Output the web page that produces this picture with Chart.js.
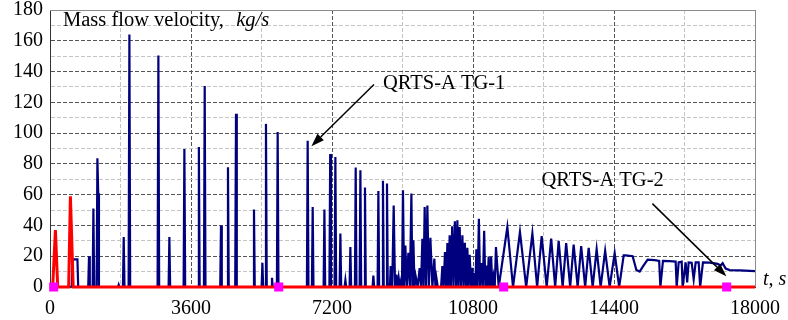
<!DOCTYPE html>
<html><head><meta charset="utf-8">
<script src="https://cdn.jsdelivr.net/npm/chart.js@4/dist/chart.umd.min.js"></script>
<style>html,body{margin:0;padding:0;background:#fff}#wrap{width:788px;height:320px}</style>
</head><body><div id="wrap"><canvas id="c" width="788" height="320"></canvas></div>
<script>
// QRTS-A TG-1 mass flow (kg/s) vs time (s)
const blueTimes = [
0,554,580,700,720,
976,996,1016, 1088,1108,1128, 1190,1210,1231,1250,
1734,1754,1774, 1862,1882,1902, 2007,2027,2047, 2747,2767,2787,
3028,3048,3068, 3411,3431,3451, 3781,3801,3821, 3930,3950,3970,
4346,4366,4386, 4524,4544,4564, 4729,4749,4769, 5188,5208,5228,
5403,5423,5443, 5494,5514,5534, 5648,5668,5688, 5793,5813,5833,
6559,6579,6599, 6687,6707,6727, 6986,7006,7026, 7134,7154,7174,
7266,7286,7306, 7394,7414,7434, 7522,7542,7562, 7649,7669,7689,
7785,7805,7825, 7905,7925,7945, 8022,8042,8062, 8236,8256,8276,
8364,8384,8404, 8481,8501,8521, 8584,8604,8624, 8678,8698,8737,
8775,8810,8844,8873,8902,8931,8961,8986,9012,9042,9073,9111,9150,9188,
9227,9252,9278,9307,9336,9387,9438,9472,9507,9536,9566,9600,9635,9673,
9712,9763,9814,9840,9865,9900,
9985,10018,10051,10084,10115,10146,10175,10204,10236,10268,10302,10337,10369,
10401,10430,10460,10494,10529,10560,10592,10624,10656,10685,10715,10750,
10784,10810,10835,10860,10886,10918,10950,10982,11014,11050,11085,11115,
11144,11172,11200,11232,11264,11293,11323,11355,11386,11457,
11677,11822,11999,12158,12316,12438,12553,12681,12796,12898,12987,13089,
13179,13281,13370,13472,13562,13664,13753,13855,13957,14059,14174,14289,
14417,14532,
14647,14698,14876,14971,15055,15157,15259,15438,15553,15584,15650,15821,
15974,16000,16051,16128,16153,16229,16268,16306,16383,16434,16485,16562,
16600,16671,16842,17046,17123,17174,17251,17353,17608,18000
];
const blueValues = [
0,0,18,18,0,
0,20,0, 0,51,0, 0,83.6,61,0,
0,1.5,0, 0,32.5,0, 0,164,0, 0,150.5,0,
0,32.5,0, 0,89.7,0, 0,91,0, 0,130.6,0,
0,40,0, 0,77.8,0, 0,112.6,0, 0,50.3,0,
0,15.8,0, 0,106,0, 0,6,0, 0,100.7,0,
0,95,0, 0,52,0, 0,50.3,0, 0,86.5,0,
0,84.5,0, 0,34.7,0, 0,4.4,0, 0,26,0,
0,77.6,0, 0,75.8,0, 0,64.6,0, 0,7.4,0,
0,62.4,0, 0,69.1,0, 0,67.2,0, 0,13.6,0,
53,0,8,0,6,0,4,0,62.8,0,27,0,22.3,0,
60.7,0,30.3,0,7,0,12.3,0,31.4,0,52,0,53,0,
32,0,18.4,0,6,0,
0,13.6,0,22.7,0,28.6,0,33.6,0,39.5,0,42.7,0,
43.3,0,39,0,33.6,0,28.7,0,25.5,0,21,0,
12.5,0,9,0,24.5,0,44.4,0,15.5,0,36.6,0,
14,0,19.8,0,19.6,0,6.5,0,26,0,
39,0,35.7,0,34.7,0,33,0,31.4,0,30,0,
28.6,0,27.5,0,26.5,0,25.5,0,24.5,0,23.5,0,
22,0,
20.6,20.6,20,11,10,14,17.8,17.5,17,0,17,16.8,
16.5,0,16,16.5,0,16,3,16,15.8,5,16,16,
0,16,15.8,15,14,15.5,12,11,10.8,10.3
];
// QRTS-A TG-2 mass flow
const redTimes = [0, 69, 138, 197, 477, 521, 592, 18000];
const redValues = [0, 0, 37, 0, 0, 59, 0, 0];
// TG-2 marker points
const markerTimes = [94, 5839, 11583, 17276];
const markerValues = [0, 0, 0, 0];
// tick labels
const xLabelValues = [0, 3600, 7200, 10800, 14400, 18000];
const yLabelValues = [0, 20, 40, 60, 80, 100, 120, 140, 160, 180];

const toXY = (ts, vs) => ts.map((t, i) => ({x: t, y: vs[i]}));
const SERIF = "'Liberation Serif','Times New Roman',serif";

function arrow(ctx, x1, y1, x2, y2) {
  const ang = Math.atan2(y2 - y1, x2 - x1), L = 13, W = 4.5;
  const bx = x2 - L * Math.cos(ang), by = y2 - L * Math.sin(ang);
  ctx.beginPath(); ctx.moveTo(x1, y1); ctx.lineTo(bx, by); ctx.stroke();
  ctx.beginPath();
  ctx.moveTo(x2, y2);
  ctx.lineTo(bx + W * Math.sin(ang), by - W * Math.cos(ang));
  ctx.lineTo(bx - W * Math.sin(ang), by + W * Math.cos(ang));
  ctx.closePath(); ctx.fill();
}

const deco = {
  id: 'deco',
  beforeDatasetsDraw(chart) {
    const {ctx, chartArea: a} = chart;
    ctx.save();
    ctx.strokeStyle = '#8c8c8c'; ctx.lineWidth = 1;
    ctx.beginPath();
    ctx.moveTo(a.left, a.top + 0.5); ctx.lineTo(a.right + 0.5, a.top + 0.5);
    ctx.lineTo(a.right + 0.5, a.bottom);
    ctx.stroke();
    ctx.restore();
  },
  afterDraw(chart) {
    const {ctx, chartArea: a} = chart;
    const xs = chart.scales.x, ys = chart.scales.y;
    const X = v => xs.getPixelForValue(v), Y = v => ys.getPixelForValue(v);
    ctx.save();
    ctx.fillStyle = '#000'; ctx.strokeStyle = '#000';
    ctx.textBaseline = 'alphabetic'; ctx.textAlign = 'left';
    // title
    ctx.font = '20.5px ' + SERIF;
    const t1 = 'Mass flow velocity,  ';
    ctx.fillText(t1, X(332), Y(169.9));
    const w1 = ctx.measureText(t1).width;
    ctx.font = 'italic 20.5px ' + SERIF;
    ctx.fillText('kg/s', X(332) + w1 + 2, Y(169.9));
    // labels
    ctx.font = '20.5px ' + SERIF;
    ctx.fillText('QRTS-A TG-1', X(8502), Y(128.4));
    ctx.fillText('QRTS-A TG-2', X(12546), Y(65.4));
    ctx.lineWidth = 1.5;
    arrow(ctx, X(8272), Y(131.6), X(6674), Y(91.5));
    arrow(ctx, X(15380), Y(54.2), X(17269), Y(7));
    // axis label
    ctx.font = 'italic 20px ' + SERIF;
    ctx.fillText('t, s', a.right + 8, a.bottom - 2);
    ctx.restore();
  }
};

new Chart(document.getElementById('c'), {
  type: 'line',
  data: {
    datasets: [
      {label: 'markers', data: toXY(markerTimes, markerValues), showLine: false, clip: false,
       pointStyle: 'rect', pointRadius: 6.4, pointBackgroundColor: '#ff00ff',
       pointBorderWidth: 0, borderColor: '#ff00ff'},
      {label: 'QRTS-A TG-2', data: toXY(redTimes, redValues), borderColor: '#ff0000',
       borderWidth: 3, pointRadius: 0, tension: 0, fill: false, clip: false},
      {label: 'QRTS-A TG-1', data: toXY(blueTimes, blueValues), borderColor: '#00007f',
       borderWidth: 2.2, pointRadius: 0, tension: 0, fill: false}
    ]
  },
  options: {
    responsive: false, animation: false,
    layout: {padding: {top: 10, right: 33, left: 0, bottom: 0}},
    plugins: {legend: {display: false}, tooltip: {enabled: false}},
    scales: {
      x: {
        type: 'linear', min: 0, max: 18000,
        afterFit: s => { s.height = 33; s.paddingLeft = 0; s.paddingRight = 0; },
        ticks: {stepSize: 1800, autoSkip: false, maxRotation: 0, padding: 12, color: '#000',
          font: {family: SERIF, size: 20, lineHeight: 1},
          callback: v => xLabelValues.includes(v) ? String(v) : ''},
        grid: {drawTicks: false, lineWidth: 1,
          color: c => (c.tick && xLabelValues.includes(c.tick.value)) ? '#555' : '#c4c4c4'},
        border: {display: true, color: '#333', width: 1, dash: [4, 2]}
      },
      y: {
        min: 0, max: 180,
        afterFit: s => { s.width = 50; s.paddingTop = 0; s.paddingBottom = 0; },
        ticks: {stepSize: 10, autoSkip: false, padding: 7, color: '#000',
          font: {family: SERIF, size: 20, lineHeight: 1},
          callback: v => yLabelValues.includes(v) ? String(v) : ''},
        grid: {drawTicks: false, lineWidth: 1,
          color: c => (c.tick && yLabelValues.includes(c.tick.value)) ? '#555' : '#c4c4c4'},
        border: {display: true, color: '#333', width: 1, dash: [4, 2]}
      }
    }
  },
  plugins: [deco]
});
</script>
</body></html>
